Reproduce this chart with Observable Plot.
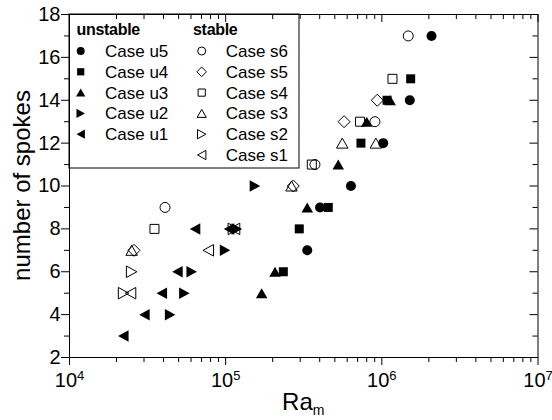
<!DOCTYPE html>
<html><head><meta charset="utf-8">
<script src="https://cdn.jsdelivr.net/npm/d3@7"></script>
<script src="https://cdn.jsdelivr.net/npm/@observablehq/plot@0.6"></script>
<style>body{margin:0;background:#fff} svg{display:block}</style>
</head><body><div id="chart"></div>
<script>
// ---- data (Ra_m, number of spokes) ----
const u5Ra = [333000, 402000, 634000, 1020000, 1510000, 2080000];
const u5N  = [7, 9, 10, 12, 14, 17];
const u4Ra = [234000, 296000, 454000, 735000, 1080000, 1530000];
const u4N  = [6, 8, 9, 12, 14, 15];
const u3Ra = [170000, 207000, 333000, 526000, 800000, 1130000];
const u3N  = [5, 6, 9, 11, 13, 14];
const u2Ra = [44100, 54400, 60600, 99100, 118000, 154000];
const u2N  = [4, 5, 6, 7, 8, 10];
const u1Ra = [22100, 30200, 39000, 49100, 63700, 105000];
const u1N  = [3, 4, 5, 6, 8, 8];
const s6Ra = [40900, 373000, 903000, 1476000];
const s6N  = [9, 11, 13, 17];
const s5Ra = [25900, 271000, 573000, 935000];
const s5N  = [7, 10, 13, 14];
const s4Ra = [35000, 356000, 725000, 1170000];
const s4N  = [8, 11, 13, 15];
const s3Ra = [25000, 264000, 558000, 916000];
const s3N  = [7, 10, 12, 12];
const s2Ra = [22200, 25000, 112000];
const s2N  = [5, 6, 8];
const s1Ra = [24600, 77400, 114000];
const s1N  = [5, 7, 8];

const unstableLabels = ["Case u5", "Case u4", "Case u3", "Case u2", "Case u1"];
const stableLabels = ["Case s6", "Case s5", "Case s4", "Case s3", "Case s2", "Case s1"];
const xTickValues = [1e4, 1e5, 1e6, 1e7];
const yTickValues = [2, 4, 6, 8, 10, 12, 14, 16, 18];

// ---- symbols ----
function sym(fn) { return {draw(c, size) { fn(c, Math.sqrt(size / Math.PI)); }}; }
const SYM = {
  circle: sym((c, r) => { c.moveTo(r, 0); c.arc(0, 0, r, 0, 2 * Math.PI); c.closePath(); }),
  square: sym((c, r) => { const h = 0.9 * r; c.moveTo(-h, -h); c.lineTo(h, -h); c.lineTo(h, h); c.lineTo(-h, h); c.closePath(); }),
  triUp: sym((c, r) => { const w = 1.15 * r, h = 1.0 * r; c.moveTo(0, -h); c.lineTo(w, h); c.lineTo(-w, h); c.closePath(); }),
  triRight: sym((c, r) => { const w = 1.15 * r, h = 1.05 * r; c.moveTo(h, 0); c.lineTo(-h, -w); c.lineTo(-h, w); c.closePath(); }),
  triLeft: sym((c, r) => { const w = 1.15 * r, h = 1.05 * r; c.moveTo(-h, 0); c.lineTo(h, -w); c.lineTo(h, w); c.closePath(); }),
  diamond: sym((c, r) => { const d = 1.2 * r; c.moveTo(0, -d); c.lineTo(d, 0); c.lineTo(0, d); c.lineTo(-d, 0); c.closePath(); })
};

const unstable = [
  {label: unstableLabels[0], ra: u5Ra, n: u5N, shape: "circle"},
  {label: unstableLabels[1], ra: u4Ra, n: u4N, shape: "square"},
  {label: unstableLabels[2], ra: u3Ra, n: u3N, shape: "triUp"},
  {label: unstableLabels[3], ra: u2Ra, n: u2N, shape: "triRight"},
  {label: unstableLabels[4], ra: u1Ra, n: u1N, shape: "triLeft"}
].map(s => ({...s, filled: true}));
const stable = [
  {label: stableLabels[0], ra: s6Ra, n: s6N, shape: "circle"},
  {label: stableLabels[1], ra: s5Ra, n: s5N, shape: "diamond"},
  {label: stableLabels[2], ra: s4Ra, n: s4N, shape: "square"},
  {label: stableLabels[3], ra: s3Ra, n: s3N, shape: "triUp"},
  {label: stableLabels[4], ra: s2Ra, n: s2N, shape: "triRight"},
  {label: stableLabels[5], ra: s1Ra, n: s1N, shape: "triLeft"}
].map(s => ({...s, filled: false}));

const W = 552, H = 420, mL = 69, mR = 14.5, mT = 14, mB = 63;
const pW = W - mL - mR, pH = H - mT - mB;

const xMinor = [];
for (let k = 4; k < 7; k++) for (let m = 2; m <= 9; m++) xMinor.push(m * 10 ** k);
const yMinor = d3.range(3, 18, 2);

function seriesDots(s) {
  const rows = s.ra.map((ra, i) => ({ra, n: s.n[i]}));
  return Plot.dot(rows, {
    x: "ra", y: "n", r: 5, symbol: SYM[s.shape],
    fill: s.filled ? "black" : "none",
    stroke: s.filled ? "none" : "black",
    strokeWidth: 1
  });
}

const FONT = "'Liberation Sans', Arial, Helvetica, sans-serif";
const svgEl = Plot.plot({
  width: W, height: H,
  marginLeft: mL, marginRight: mR, marginTop: mT, marginBottom: mB,
  x: {type: "log", domain: [1e4, 1e7], axis: null},
  y: {domain: [2, 18], axis: null},
  style: {fontFamily: FONT, fontSize: "20px", background: "white", color: "black"},
  marks: [
    Plot.frame({stroke: "black", strokeWidth: 1}),
    // bottom ticks (outward)
    Plot.tickX(xTickValues, {x: d => d, insetTop: pH, insetBottom: -8, stroke: "black"}),
    Plot.tickX(xMinor, {x: d => d, insetTop: pH, insetBottom: -5, stroke: "black"}),
    // top ticks (mirrored, pointing down)
    Plot.tickX(xTickValues, {x: d => d, insetTop: 0, insetBottom: pH - 8, stroke: "black"}),
    Plot.tickX(xMinor, {x: d => d, insetTop: 0, insetBottom: pH - 5, stroke: "black"}),
    // left ticks (outward)
    Plot.tickY(yTickValues, {y: d => d, insetLeft: -8, insetRight: pW, stroke: "black"}),
    Plot.tickY(yMinor, {y: d => d, insetLeft: -5, insetRight: pW, stroke: "black"}),
    // right ticks (mirrored, pointing left)
    Plot.tickY(yTickValues, {y: d => d, insetLeft: pW - 8, insetRight: 0, stroke: "black"}),
    Plot.tickY(yMinor, {y: d => d, insetLeft: pW - 5, insetRight: 0, stroke: "black"}),
    Plot.axisY({ticks: yTickValues, tickSize: 0, tickPadding: 9, label: null, tickFormat: d => String(d)}),
    Plot.axisX({ticks: xTickValues, tickSize: 0, tickPadding: 15, label: null,
      tickFormat: d => "10^" + Math.round(Math.log10(d))}),
    ...stable.map(seriesDots),
    ...unstable.map(seriesDots)
  ]
});

const svg = d3.select(svgEl);
// superscript exponents on x tick labels
svg.selectAll('g[aria-label="x-axis tick label"] text').each(function() {
  const t = this.textContent;
  const [base, exp] = t.split("^");
  const sel = d3.select(this);
  sel.text(base);
  sel.append("tspan").attr("dy", "-0.5em").attr("font-size", "13px").text(exp);
});

// axis titles
const xt = svg.append("text").attr("x", mL + pW / 2).attr("y", 410)
  .attr("text-anchor", "middle").attr("font-size", "24px").attr("font-family", FONT).attr("fill", "black");
xt.append("tspan").text("Ra");
xt.append("tspan").attr("font-size", "14px").attr("dy", "5").text("m");

svg.append("text").attr("transform", `translate(30,${mT + pH / 2}) rotate(-90)`)
  .attr("text-anchor", "middle").attr("font-size", "24px").attr("font-family", FONT)
  .attr("fill", "black").text("number of spokes");

// legend
const lg = svg.append("g").attr("font-family", FONT).attr("fill", "black").attr("text-anchor", "start");
lg.append("rect").attr("x", mL).attr("y", mT).attr("width", 230).attr("height", 154)
  .attr("fill", "none").attr("stroke", "black").attr("stroke-width", 1);
lg.append("text").attr("x", 76.5).attr("y", 35).attr("font-size", "16px").attr("font-weight", "bold")
  .attr("letter-spacing", "-0.3").text("unstable");
lg.append("text").attr("x", 193).attr("y", 35).attr("font-size", "16px").attr("font-weight", "bold")
  .attr("letter-spacing", "-0.3").text("stable");
function legendCol(list, sx, tx) {
  list.forEach((s, i) => {
    const cy = 51 + i * 20.8;
    const p = d3.path();
    SYM[s.shape].draw(p, Math.PI * 4 * 4);
    lg.append("path").attr("transform", `translate(${sx},${cy})`).attr("d", p.toString())
      .attr("fill", s.filled ? "black" : "none").attr("stroke", s.filled ? "none" : "black").attr("stroke-width", 1);
    lg.append("text").attr("x", tx).attr("y", cy + 6).attr("font-size", "17px").text(s.label);
  });
}
legendCol(unstable, 80.7, 105);
legendCol(stable, 201.7, 225.7);

document.getElementById("chart").appendChild(svgEl);
</script>
</body></html>
